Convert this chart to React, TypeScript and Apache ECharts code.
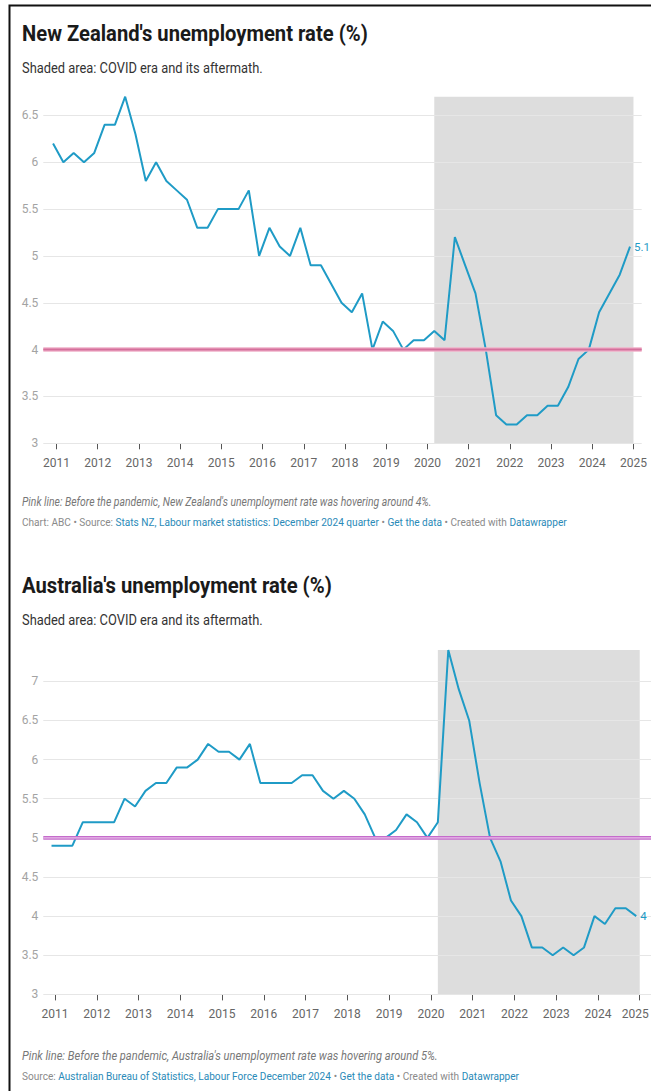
import React, { useEffect, useRef } from "react";
import * as echarts from "echarts";

// ---------- data ----------
// quarterly observations, labelled by the last month of each quarter (Dec 2010 … Dec 2024)
const QUARTERS: string[] = (() => {
  const out: string[] = [];
  for (let y = 2010; y <= 2024; y++) {
    for (const m of [3, 6, 9, 12]) {
      if (y === 2010 && m < 12) continue;
      out.push(`${y}-${String(m).padStart(2, "0")}`);
    }
  }
  return out;
})();

const NZ_RATE = [
  6.2, 6.0, 6.1, 6.0, 6.1, 6.4, 6.4, 6.7, 6.3, 5.8, 6.0, 5.8, 5.7, 5.6, 5.3, 5.3,
  5.5, 5.5, 5.5, 5.7, 5.0, 5.3, 5.1, 5.0, 5.3, 4.9, 4.9, 4.7, 4.5, 4.4, 4.6, 4.0,
  4.3, 4.2, 4.0, 4.1, 4.1, 4.2, 4.1, 5.2, 4.9, 4.6, 4.0, 3.3, 3.2, 3.2, 3.3, 3.3,
  3.4, 3.4, 3.6, 3.9, 4.0, 4.4, 4.6, 4.8, 5.1,
];

const AU_RATE = [
  4.9, 4.9, 4.9, 5.2, 5.2, 5.2, 5.2, 5.5, 5.4, 5.6, 5.7, 5.7, 5.9, 5.9, 6.0, 6.2,
  6.1, 6.1, 6.0, 6.2, 5.7, 5.7, 5.7, 5.7, 5.8, 5.8, 5.6, 5.5, 5.6, 5.5, 5.3, 5.0,
  5.0, 5.1, 5.3, 5.2, 5.0, 5.2, 7.4, 6.9, 6.5, 5.7, 5.0, 4.7, 4.2, 4.0, 3.6, 3.6,
  3.5, 3.6, 3.5, 3.6, 4.0, 3.9, 4.1, 4.1, 4.0,
];

const YEAR_TICKS = [2011, 2012, 2013, 2014, 2015, 2016, 2017, 2018, 2019, 2020, 2021, 2022, 2023, 2024, 2025];

const NZ_PRE_PANDEMIC = 4;
const AU_PRE_PANDEMIC = 5;
const COVID_START = "2020-03";
const COVID_END = "2025-01";

const NZ_TITLE = "New Zealand's unemployment rate (%)";
const AU_TITLE = "Australia's unemployment rate (%)";
const SUBTITLE = "Shaded area: COVID era and its aftermath.";
const NZ_NOTE = "Pink line: Before the pandemic, New Zealand's unemployment rate was hovering around 4%.";
const AU_NOTE = "Pink line: Before the pandemic, Australia's unemployment rate was hovering around 5%.";
const NZ_SOURCE: [string, string][] = [
  ["g", "Chart: ABC • Source: "],
  ["b", "Stats NZ, Labour market statistics: December 2024 quarter"],
  ["g", " • "],
  ["b", "Get the data"],
  ["g", " • Created with "],
  ["b", "Datawrapper"],
];
const AU_SOURCE: [string, string][] = [
  ["g", "Source: "],
  ["b", "Australian Bureau of Statistics, Labour Force December 2024"],
  ["g", " • "],
  ["b", "Get the data"],
  ["g", " • Created with "],
  ["b", "Datawrapper"],
];

// ---------- helpers ----------
const toYear = (s: string) => {
  const [y, m] = s.split("-").map(Number);
  return y + (m - 1) / 12;
};

const FONT = "Roboto, 'Noto Sans', sans-serif";
const LINE_BLUE = "#1f9bc6";
const LINK_BLUE = "#2a8ab8";

let measureCtx: CanvasRenderingContext2D | null = null;
const measure = (text: string, font: string) => {
  if (!measureCtx) measureCtx = document.createElement("canvas").getContext("2d");
  measureCtx!.font = font;
  return measureCtx!.measureText(text).width;
};

const fittedText = (text: string, x: number, y: number, width: number, font: string, fill: string) => ({
  type: "text",
  x,
  y,
  scaleX: width / measure(text, font),
  silent: true,
  style: { text, font, fill, verticalAlign: "middle", align: "left" },
});

const fittedRich = (parts: [string, string][], x: number, y: number, width: number, size: number) => {
  const font = `${size}px ${FONT}`;
  const plain = parts.map((p) => p[1]).join("");
  return {
    type: "text",
    x,
    y,
    scaleX: width / measure(plain, font),
    silent: true,
    style: {
      text: parts.map((p) => `{${p[0]}|${p[1]}}`).join(""),
      font,
      verticalAlign: "middle",
      align: "left",
      rich: {
        g: { fill: "#8a8a8a", fontSize: size, fontFamily: FONT },
        b: { fill: LINK_BLUE, fontSize: size, fontFamily: FONT },
      },
    },
  };
};

type Panel = {
  idx: number;
  rate: number[];
  base: number;
  xMin: number;
  xMax: number;
  yMax: number;
  baseOuter: string;
  baseInner: string;
  baseOuterW: number;
  baseInnerW: number;
  nudgeLast: boolean;
};

const App: React.FC = () => {
  const ref = useRef<HTMLDivElement>(null);

  useEffect(() => {
    if (!ref.current) return;
    const chart = echarts.init(ref.current, undefined, { renderer: "svg" });

    const grids = [
      { left: 43.3, top: 96.7, width: 598.4, height: 346.6, outerBoundsMode: "none", containLabel: false },
      { left: 43.3, top: 650, width: 607.7, height: 344.4, outerBoundsMode: "none", containLabel: false },
    ];

    const panels: Panel[] = [
      {
        idx: 0, rate: NZ_RATE, base: NZ_PRE_PANDEMIC, xMin: 2010.68, xMax: 2025.2, yMax: 6.7,
        baseOuter: "#efb0c8", baseInner: "#d56f9b", baseOuterW: 4.5, baseInnerW: 2, nudgeLast: false,
      },
      {
        idx: 1, rate: AU_RATE, base: AU_PRE_PANDEMIC, xMin: 2010.72, xMax: 2025.27, yMax: 7.4,
        baseOuter: "#c56bcb", baseInner: "#e7bdea", baseOuterW: 3.6, baseInnerW: 1.2, nudgeLast: true,
      },
    ];

    const lastYear = YEAR_TICKS[YEAR_TICKS.length - 1];

    const xAxis = panels.map((p) => ({
      type: "value",
      gridIndex: p.idx,
      min: p.xMin,
      max: p.xMax,
      axisLine: { show: false },
      splitLine: { show: false },
      axisTick: {
        show: true,
        customValues: YEAR_TICKS,
        length: 6,
        lineStyle: { color: "#555", width: 1 },
      },
      axisLabel: {
        customValues: YEAR_TICKS,
        formatter: (v: number) => {
          const y = Math.round(v);
          return p.nudgeLast && y === lastYear ? `{e|${y}}` : String(y);
        },
        rich: { e: { color: "#666", fontSize: 12, fontFamily: FONT, padding: [0, 9, 0, 0] } },
        color: "#666",
        fontSize: 12,
        fontFamily: FONT,
        margin: 14,
      },
    }));

    const yAxis = panels.map((p) => ({
      type: "value",
      gridIndex: p.idx,
      min: 3,
      max: p.yMax,
      interval: 0.5,
      z: 1,
      axisLine: { show: false },
      axisTick: { show: false },
      splitLine: { show: true, showMaxLine: false, lineStyle: { color: "#e6e6e6", width: 1 } },
      axisLabel: {
        showMaxLabel: false,
        color: "#a3a3a3",
        fontSize: 12,
        fontFamily: FONT,
        margin: 5,
        formatter: (v: number) => String(v),
      },
    }));

    const series: any[] = [];
    panels.forEach((p) => {
      series.push({
        type: "custom",
        xAxisIndex: p.idx,
        yAxisIndex: p.idx,
        z: 0,
        silent: true,
        clip: false,
        data: [[toYear(COVID_START), toYear(COVID_END)]],
        encode: { x: [0, 1] },
        renderItem: (params: any, api: any) => {
          const a = api.coord([api.value(0), p.yMax]);
          const b = api.coord([api.value(1), 3]);
          return {
            type: "rect",
            shape: { x: a[0], y: a[1], width: b[0] - a[0], height: b[1] - a[1] },
            style: { fill: "#dddddd" },
          };
        },
      });
      series.push({
        type: "line",
        xAxisIndex: p.idx,
        yAxisIndex: p.idx,
        z: 3,
        symbol: "none",
        silent: true,
        data: QUARTERS.map((q, i) => [toYear(q), p.rate[i]]),
        lineStyle: { color: LINE_BLUE, width: 2 },
        endLabel: {
          show: true,
          formatter: (d: any) => String(d.value[1]),
          color: LINE_BLUE,
          fontSize: 11.5,
          fontFamily: FONT,
          distance: 4,
        },
      });
      series.push({
        type: "line",
        xAxisIndex: p.idx,
        yAxisIndex: p.idx,
        z: 4,
        symbol: "none",
        silent: true,
        data: [[p.xMin, p.base], [p.xMax, p.base]],
        lineStyle: { color: p.baseOuter, width: p.baseOuterW },
      });
      series.push({
        type: "line",
        xAxisIndex: p.idx,
        yAxisIndex: p.idx,
        z: 5,
        symbol: "none",
        silent: true,
        data: [[p.xMin, p.base], [p.xMax, p.base]],
        lineStyle: { color: p.baseInner, width: p.baseInnerW },
      });
    });

    const graphic = [
      {
        type: "rect",
        silent: true,
        shape: { x: 9.5, y: 5.5, width: 700, height: 1100 },
        style: { fill: "none", stroke: "#111", lineWidth: 2 },
      },
      fittedText(NZ_TITLE, 22, 33, 346, `bold 22px ${FONT}`, "#1a1a1a"),
      fittedText(SUBTITLE, 22, 68, 241, `14px ${FONT}`, "#333"),
      fittedText(NZ_NOTE, 22, 502, 410, `italic 12px ${FONT}`, "#777"),
      fittedRich(NZ_SOURCE, 22, 522, 545, 11),
      fittedText(AU_TITLE, 22, 585, 310, `bold 22px ${FONT}`, "#1a1a1a"),
      fittedText(SUBTITLE, 22, 620, 241, `14px ${FONT}`, "#333"),
      fittedText(AU_NOTE, 22, 1056, 416, `italic 12px ${FONT}`, "#777"),
      fittedRich(AU_SOURCE, 22, 1076, 497, 11),
    ];

    chart.setOption({
      animation: false,
      backgroundColor: "#ffffff",
      grid: grids,
      xAxis,
      yAxis,
      series,
      graphic,
    });

    return () => chart.dispose();
  }, []);

  return (
    <div
      ref={ref}
      style={{ position: "absolute", left: 0, top: 0, width: 651, height: 1091, background: "#fff" }}
    />
  );
};

export default App;
